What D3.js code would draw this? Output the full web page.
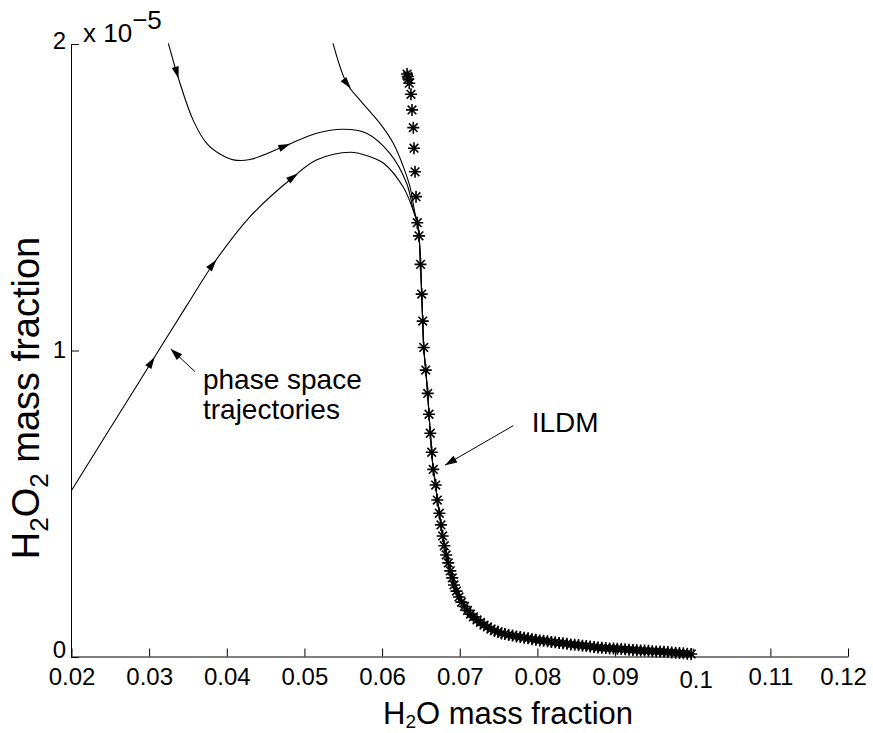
<!DOCTYPE html>
<html>
<head>
<meta charset="utf-8">
<script src="https://d3js.org/d3.v7.min.js"></script>
<style>
  body { margin: 0; background: #fff; }
  svg { font-family: "Liberation Sans", Arial, Helvetica, sans-serif; }
</style>
</head>
<body>
<div id="chart"></div>
<script>
// ticks
var xTicks = [0.02, 0.03, 0.04, 0.05, 0.06, 0.07, 0.08, 0.09, 0.1, 0.11, 0.12];
var yTicks = [0, 1, 2];   // in units of 1e-5

// phase space trajectories (H2O, H2O2 x 1e-5), before they reach the manifold
var traj1X = [0.0200, 0.0250, 0.0300, 0.0350, 0.0383, 0.0430, 0.0486, 0.0516, 0.0559, 0.0585, 0.0602, 0.0627, 0.0640];
var traj1Y = [0.543, 0.747, 0.950, 1.153, 1.284, 1.437, 1.567, 1.622, 1.647, 1.632, 1.611, 1.534, 1.458];
var traj2X = [0.03247, 0.03397, 0.03569, 0.03741, 0.03912, 0.04084, 0.04299, 0.04728, 0.05158, 0.0550, 0.0580, 0.0610, 0.06317, 0.06402];
var traj2Y = [2.002, 1.872, 1.750, 1.676, 1.641, 1.622, 1.623, 1.665, 1.709, 1.722, 1.709, 1.643, 1.545, 1.458];
var traj3X = [0.05368, 0.05544, 0.05715, 0.05973, 0.06144, 0.06273, 0.06359, 0.06423];
var traj3Y = [2.002, 1.872, 1.817, 1.741, 1.676, 1.600, 1.534, 1.448];

// ILDM points (stars)
var ildmX = [0.06321, 0.06330, 0.06337, 0.06350, 0.06372, 0.06385, 0.06402, 0.06411, 0.06424, 0.06437,
  0.06453, 0.06475, 0.06495, 0.06510, 0.06523, 0.06536, 0.06562, 0.06587, 0.06604, 0.06621,
  0.06639, 0.06659, 0.06690, 0.06711, 0.06737, 0.06758, 0.06780, 0.06801, 0.06825, 0.06852,
  0.06878, 0.06903, 0.06926, 0.06958, 0.06990, 0.07022, 0.07061, 0.07100, 0.07138, 0.07177,
  0.07222, 0.07267, 0.07312, 0.07357, 0.07402, 0.07447, 0.07493, 0.07538,
  0.0758, 0.0763, 0.0768, 0.0773, 0.0778, 0.0783, 0.0788, 0.0793, 0.0798, 0.0803,
  0.0808, 0.0813, 0.0818, 0.0823, 0.0828, 0.0833, 0.0838, 0.0843, 0.0848, 0.0853,
  0.0858, 0.0863, 0.0868, 0.0873, 0.0878, 0.0883, 0.0888, 0.0893, 0.0898, 0.0903,
  0.0908, 0.0913, 0.0918, 0.0923, 0.0928, 0.0933, 0.0938, 0.0943, 0.0948, 0.0953,
  0.0958, 0.0963, 0.0968, 0.0973, 0.0978, 0.0983, 0.0988, 0.0993, 0.0998];
var ildmY = [1.902, 1.894, 1.886, 1.872, 1.836, 1.785, 1.727, 1.660, 1.583, 1.502,
  1.417, 1.374, 1.281, 1.184, 1.096, 1.010, 0.936, 0.860, 0.792, 0.730,
  0.668, 0.612, 0.561, 0.512, 0.469, 0.431, 0.395, 0.363, 0.333, 0.307,
  0.281, 0.258, 0.235, 0.215, 0.196, 0.179, 0.165, 0.152, 0.140, 0.131,
  0.121, 0.113, 0.104, 0.098, 0.091, 0.086, 0.082, 0.077,
  0.075, 0.072, 0.070, 0.067, 0.065, 0.063, 0.061, 0.058, 0.056, 0.054,
  0.053, 0.051, 0.049, 0.048, 0.046, 0.045, 0.043, 0.041, 0.040, 0.039,
  0.037, 0.036, 0.034, 0.033, 0.031, 0.030, 0.029, 0.028, 0.028, 0.027,
  0.026, 0.025, 0.024, 0.023, 0.022, 0.021, 0.021, 0.020, 0.019, 0.018,
  0.018, 0.017, 0.016, 0.015, 0.014, 0.013, 0.012, 0.011, 0.010];

// arrow heads along the trajectories: trajectory index, approximate position
var arrowTraj = [0, 0, 0, 1, 1, 2];
var arrowX = [0.03053, 0.03870, 0.04921, 0.03342, 0.04814, 0.0560];
var arrowY = [0.982, 1.295, 1.576, 1.885, 1.676, 1.855];

var width = 873, height = 733;

var svg = d3.select("#chart").append("svg")
    .attr("width", width)
    .attr("height", height);

var x = d3.scaleLinear().domain([0.02, 0.12]).range([71.5, 848]);
var y = d3.scaleLinear().domain([0, 2]).range([657, 44]);

// axes
var xAxis = svg.append("g")
    .attr("transform", "translate(0,656.5)")
    .call(d3.axisBottom(x).tickValues(xTicks).tickSizeInner(-8).tickSizeOuter(0)
        .tickFormat(function (d) { return String(+d.toFixed(2)); }));
xAxis.selectAll("text")
    .attr("dy", null)
    .attr("y", function (d) { return d === 0.1 ? 31 : 28.5; })
    .attr("dx", function (d) { return d === 0.1 ? 3 : (d === 0.12 ? -5 : 0); })
    .style("font-size", "24px")
    .style("font-family", "Liberation Sans, Arial, sans-serif")
    .attr("fill", "#000");

var yAxis = svg.append("g")
    .attr("transform", "translate(71,0)")
    .call(d3.axisLeft(y).tickValues(yTicks).tickSizeInner(-8).tickSizeOuter(0)
        .tickFormat(function (d) { return String(d); }));
yAxis.selectAll("text")
    .attr("dy", null)
    .attr("x", -5)
    .attr("y", function (d) { return d === 0 ? 0.5 : (d === 1 ? 6.6 : 4.3); })
    .style("font-size", "24px")
    .style("font-family", "Liberation Sans, Arial, sans-serif")
    .attr("fill", "#000");
svg.selectAll(".domain, .tick line").attr("stroke", "#000").attr("stroke-width", 1);

// exponent label
var expo = svg.append("text").attr("x", 83).attr("y", 42).style("font-size", "26px");
expo.append("tspan").text("x 10");
expo.append("tspan").attr("dy", -12.7).text("\u22125");

// axis titles
var xt = svg.append("text")
    .attr("x", 508).attr("y", 724)
    .attr("text-anchor", "middle")
    .style("font-size", "31px");
xt.append("tspan").text("H");
xt.append("tspan").attr("dy", 4).style("font-size", "19px").text("2");
xt.append("tspan").attr("dy", -4).text("O mass fraction");

var yt = svg.append("text")
    .attr("transform", "translate(39,398) rotate(-90)")
    .attr("text-anchor", "middle")
    .style("font-size", "38px");
yt.append("tspan").text("H");
yt.append("tspan").attr("dy", 9).style("font-size", "26px").text("2");
yt.append("tspan").attr("dy", -9).text("O");
yt.append("tspan").attr("dy", 9).style("font-size", "26px").text("2");
yt.append("tspan").attr("dy", -9).text(" mass fraction");

// build point lists
function pts(xs, ys) { return xs.map(function (v, i) { return [v, ys[i]]; }); }
var ildm = pts(ildmX, ildmY);
var tail = ildm.filter(function (p) { return p[1] < 1.43; });
var trajectories = [pts(traj1X, traj1Y), pts(traj2X, traj2Y), pts(traj3X, traj3Y)]
    .map(function (t) { return t.concat(tail); });

var line = d3.line()
    .x(function (d) { return x(d[0]); })
    .y(function (d) { return y(d[1]); })
    .curve(d3.curveCatmullRom.alpha(0.5));

svg.append("g").selectAll("path")
    .data(trajectories)
    .enter().append("path")
    .attr("d", line)
    .attr("fill", "none")
    .attr("stroke", "#000")
    .attr("stroke-width", 1.1);

// arrow heads
function head(px, py, ang, len, hw) {
    var c = Math.cos(ang), s = Math.sin(ang);
    var bx = px - len * c, by = py - len * s;
    return "M" + px + "," + py +
        "L" + (bx - hw * s) + "," + (by + hw * c) +
        "L" + (bx + hw * s) + "," + (by - hw * c) + "Z";
}

arrowTraj.forEach(function (ti, k) {
    var t = trajectories[ti].map(function (p) { return [x(p[0]), y(p[1])]; });
    var ax = x(arrowX[k]), ay = y(arrowY[k]);
    var best = null;
    for (var i = 0; i < t.length - 1; i++) {
        var dx = t[i + 1][0] - t[i][0], dy = t[i + 1][1] - t[i][1];
        var L2 = dx * dx + dy * dy;
        var u = Math.max(0, Math.min(1, ((ax - t[i][0]) * dx + (ay - t[i][1]) * dy) / L2));
        var qx = t[i][0] + u * dx, qy = t[i][1] + u * dy;
        var dist = (qx - ax) * (qx - ax) + (qy - ay) * (qy - ay);
        if (!best || dist < best.d) best = { d: dist, x: qx, y: qy, a: Math.atan2(dy, dx) };
    }
    svg.append("path").attr("d", head(best.x, best.y, best.a, 12, 3.6)).attr("fill", "#000");
});

// ILDM stars
var r = 6, a = r * 0.72;
var star = "M" + (-r) + ",0H" + r + "M0," + (-r) + "V" + r +
    "M" + (-a) + "," + (-a) + "L" + a + "," + a + "M" + (-a) + "," + a + "L" + a + "," + (-a);
svg.append("g").selectAll("path")
    .data(ildm)
    .enter().append("path")
    .attr("transform", function (d) { return "translate(" + x(d[0]) + "," + y(d[1]) + ")"; })
    .attr("d", star)
    .attr("fill", "none")
    .attr("stroke", "#000")
    .attr("stroke-width", 1.6);

// annotations
function annotArrow(x0, y0, x1, y1) {
    var px0 = x(x0), py0 = y(y0), px1 = x(x1), py1 = y(y1);
    svg.append("line").attr("x1", px0).attr("y1", py0).attr("x2", px1).attr("y2", py1)
        .attr("stroke", "#000").attr("stroke-width", 1);
    svg.append("path").attr("d", head(px1, py1, Math.atan2(py1 - py0, px1 - px0), 12, 4)).attr("fill", "#000");
}
annotArrow(0.03590, 0.931, 0.03278, 1.005);
annotArrow(0.07690, 0.755, 0.06810, 0.626);

svg.append("text").attr("x", x(0.03693)).attr("y", y(0.874)).style("font-size", "28px").text("phase space");
svg.append("text").attr("x", x(0.03693)).attr("y", y(0.777)).style("font-size", "28px").text("trajectories");
svg.append("text").attr("x", x(0.07927)).attr("y", y(0.735)).style("font-size", "28px").text("ILDM");
</script>
</body>
</html>
